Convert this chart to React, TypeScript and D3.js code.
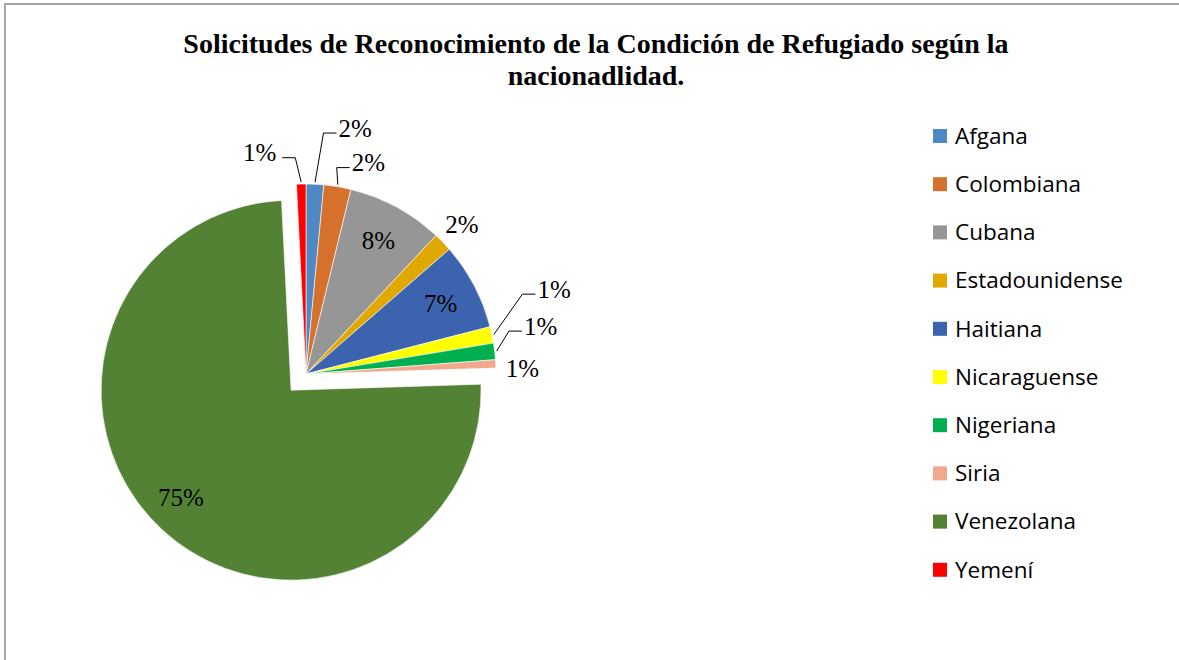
import React, { useEffect, useRef } from 'react';
import * as d3 from 'd3';

// nacionalidades, en orden de la hoja de cálculo
const categories = [
  'Afgana', 'Colombiana', 'Cubana', 'Estadounidense', 'Haitiana',
  'Nicaraguense', 'Nigeriana', 'Siria', 'Venezolana', 'Yemení',
];
// porcentaje de solicitudes
const shares = [1.5, 2.3, 8.2, 1.6, 7.4, 1.4, 1.4, 0.7, 74.7, 0.8];
const colors = [
  '#4f89c4', '#d5702d', '#969696', '#e0a800', '#3c63ad',
  '#ffff00', '#00b050', '#f2a88c', '#548235', '#ff0000',
];
const titleLines = [
  'Solicitudes de Reconocimiento de la Condición de Refugiado según la',
  'nacionadlidad.',
];

// label placement: inside / outside, radius factor, angle nudge (deg), leader
type LabelSpot = { inside: boolean; rk: number; nudge: number; leader: boolean };
const labelSpots: LabelSpot[] = [
  { inside: false, rk: 1.32, nudge: 8.6, leader: true },
  { inside: false, rk: 1.16, nudge: 6.9, leader: true },
  { inside: true, rk: 0.8, nudge: 0, leader: false },
  { inside: false, rk: 1.14, nudge: 0, leader: false },
  { inside: true, rk: 0.8, nudge: 0, leader: false },
  { inside: false, rk: 1.38, nudge: -7, leader: true },
  { inside: false, rk: 1.26, nudge: -4.7, leader: true },
  { inside: false, rk: 1.14, nudge: 1.5, leader: false },
  { inside: true, rk: 0.81, nudge: 3, leader: false },
  { inside: false, rk: 1.19, nudge: -10.4, leader: true },
];

const W = 1179;
const H = 660;
const CX = 306;
const CY = 374;
const R = 190;
const EXPLODE = 22;
const EXPLODED = 'Venezolana';

type Datum = { name: string; value: number; color: string };

export default function App() {
  const ref = useRef<SVGSVGElement | null>(null);

  useEffect(() => {
    if (!ref.current) return;
    const svg = d3.select(ref.current);
    svg.selectAll('*').remove();

    svg.append('rect')
      .attr('x', 5).attr('y', 4)
      .attr('width', W + 20).attr('height', H + 20)
      .attr('fill', '#fff')
      .attr('stroke', '#a6a6a6')
      .attr('stroke-width', 2);

    // title
    svg.append('text')
      .attr('text-anchor', 'middle')
      .attr('font-family', '"Liberation Serif", "Times New Roman", serif')
      .attr('font-weight', 'bold')
      .attr('font-size', 28)
      .selectAll('tspan')
      .data(titleLines)
      .enter()
      .append('tspan')
      .attr('x', 596)
      .attr('y', (_, i) => 53 + i * 32)
      .text(d => d);

    const data: Datum[] = categories.map((name, i) => ({ name, value: shares[i], color: colors[i] }));
    const total = d3.sum(shares);

    const pie = d3.pie<Datum>().sort(null).value(d => d.value);
    const arc = d3.arc<d3.PieArcDatum<Datum>>().innerRadius(0).outerRadius(R);
    const arcs = pie(data);

    const polar = (ang: number, r: number): [number, number] => [Math.sin(ang) * r, -Math.cos(ang) * r];

    const g = svg.append('g').attr('transform', `translate(${CX},${CY})`);

    g.selectAll('path')
      .data(arcs)
      .enter()
      .append('path')
      .attr('d', arc)
      .attr('fill', d => d.data.color)
      .attr('stroke', '#fff')
      .attr('stroke-width', 0.6)
      .attr('transform', d => {
        if (d.data.name !== EXPLODED) return null;
        const [ox, oy] = polar((d.startAngle + d.endAngle) / 2, EXPLODE);
        return `translate(${ox},${oy})`;
      });

    // data labels
    const fmt = (v: number) => `${Math.round((v / total) * 100)}%`;
    arcs.forEach((d, i) => {
      const spot = labelSpots[i];
      const mid = (d.startAngle + d.endAngle) / 2;
      const [ox, oy] = d.data.name === EXPLODED ? polar(mid, EXPLODE) : [0, 0];
      const [tx, ty] = polar(mid + (spot.nudge * Math.PI) / 180, R * spot.rk);
      const x = tx + ox;
      const y = ty + oy;
      const label = g.append('text')
        .attr('x', x)
        .attr('y', y)
        .attr('dy', '0.35em')
        .attr('text-anchor', 'middle')
        .attr('font-family', '"Liberation Serif", "Times New Roman", serif')
        .attr('font-size', 25)
        .attr('fill', '#000')
        .text(fmt(d.data.value));

      if (spot.leader) {
        const w = (label.node() as SVGTextElement).getComputedTextLength();
        const [sx, sy] = polar(mid, R + 2);
        const left = x < sx;
        const endX = left ? x + w / 2 + 6 : x - w / 2 - 2;
        const elbowX = left ? endX + 13 : endX - 13;
        const lineY = y + 5;
        g.append('polyline')
          .attr('points', `${sx},${sy} ${elbowX},${lineY} ${endX},${lineY}`)
          .attr('fill', 'none')
          .attr('stroke', '#000')
          .attr('stroke-width', 1);
      }
    });

    // legend
    const legend = svg.append('g').attr('transform', 'translate(933,136)');
    const rows = legend.selectAll('g')
      .data(data)
      .enter()
      .append('g')
      .attr('transform', (_, i) => `translate(0,${i * 48.2})`);
    rows.append('rect')
      .attr('x', 0).attr('y', -7)
      .attr('width', 14).attr('height', 14)
      .attr('fill', d => d.color);
    rows.append('text')
      .attr('x', 22)
      .attr('dy', '0.35em')
      .attr('font-family', '"Open Sans", sans-serif')
      .attr('font-size', 22.5)
      .attr('fill', '#000')
      .text(d => d.name);
  }, []);

  return (
    <svg
      ref={ref}
      width={W}
      height={H}
      style={{ position: 'fixed', left: 0, top: 0, background: '#fff' }}
    />
  );
}
